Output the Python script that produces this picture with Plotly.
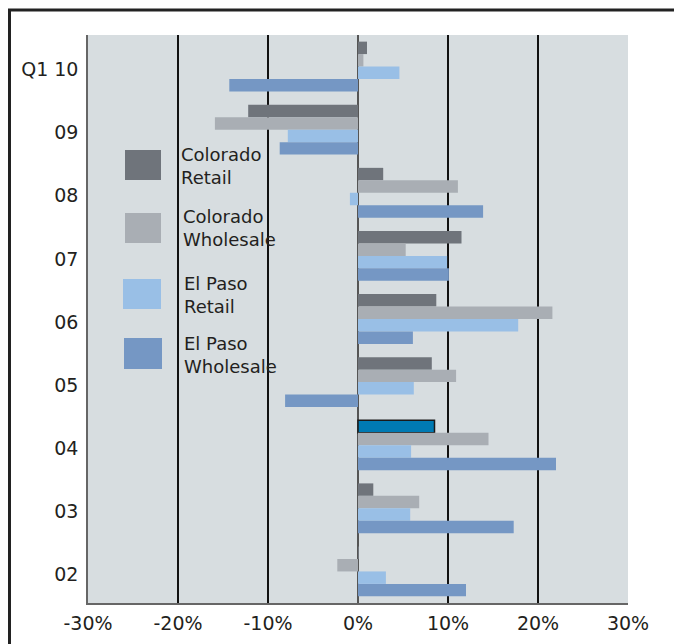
import plotly.graph_objects as go

categories = ["Q1 10", "09", "08", "07", "06", "05", "04", "03", "02"]
colorado_retail = [1.0, -12.2, 2.8, 11.5, 8.7, 8.2, 8.5, 1.7, 0.1]
colorado_wholesale = [0.6, -15.9, 11.1, 5.3, 21.6, 10.9, 14.5, 6.8, -2.3]
elpaso_retail = [4.6, -7.8, -0.9, 9.9, 17.8, 6.2, 5.9, 5.8, 3.1]
elpaso_wholesale = [-14.3, -8.7, 13.9, 10.1, 6.1, -8.1, 22.0, 17.3, 12.0]
x_ticks = [-30, -20, -10, 0, 10, 20, 30]
x_tick_labels = ["-30%", "-20%", "-10%", "0%", "10%", "20%", "30%"]

series_names = ["Colorado<br>Retail", "Colorado<br>Wholesale", "El Paso<br>Retail", "El Paso<br>Wholesale"]
series_values = [colorado_retail, colorado_wholesale, elpaso_retail, elpaso_wholesale]
colors = ["#6f747b", "#a9aeb4", "#99bfe6", "#7597c4"]
highlight_cat = "04"

FONT = "DejaVu Sans"
FS = 19
LFS = 18
TXT = "#231f20"

fig = go.Figure()
for i, (name, vals, col) in enumerate(zip(series_names, series_values, colors)):
    if i == 0:
        mcol = ["#007ab3" if c == highlight_cat else col for c in categories]
        lw = [1.5 if c == highlight_cat else 0 for c in categories]
        marker = dict(color=mcol, line=dict(color="#1a1a1a", width=lw))
    else:
        marker = dict(color=col, line=dict(width=0))
    fig.add_trace(go.Bar(y=categories, x=vals, orientation="h", name=name,
                         marker=marker, showlegend=False))

# page is rendered with an 8px body margin; design in page pixels and shift
OFF = 8
W, H = 682 - OFF, 644 - OFF
L, R, T, B = 88 - OFF, 628 - OFF, 35 - OFF, 603 - OFF

def px(x):
    return (x - OFF - L) / (R - L)

def py(y):
    return (B - (y - OFF)) / (B - T)

shapes = []
annotations = []
legend_boxes = [(125, 161, 150, 180), (125, 161, 213, 243), (123, 161, 279, 309), (124, 162, 338, 369)]
legend_text_pos = [(179, 166), (181, 228), (182, 295), (182, 355)]
for (x0, x1, y0, y1), col, name, (tx, ty) in zip(legend_boxes, colors, series_names, legend_text_pos):
    shapes.append(dict(type="rect", xref="paper", yref="paper", x0=px(x0), x1=px(x1),
                       y0=py(y1), y1=py(y0), fillcolor=col, line=dict(width=0), layer="above"))
    annotations.append(dict(xref="paper", yref="paper", x=px(tx), y=py(ty), text=name,
                            showarrow=False, xanchor="left", yanchor="middle", align="left",
                            font=dict(family=FONT, size=LFS, color=TXT)))

# outer frame (top and left)
shapes.append(dict(type="line", xref="paper", yref="paper", x0=px(7), x1=px(700), y0=py(10), y1=py(10),
                   line=dict(color="#222222", width=3)))
shapes.append(dict(type="line", xref="paper", yref="paper", x0=px(9.5), x1=px(9.5), y0=py(9), y1=py(660),
                   line=dict(color="#222222", width=3)))

fig.update_layout(
    width=W, height=H,
    margin=dict(l=L, r=W - R, t=T, b=H - B, autoexpand=False),
    paper_bgcolor="white", plot_bgcolor="#d7dde0",
    barmode="group", bargap=0.21, bargroupgap=0,
    font=dict(family=FONT, size=FS, color=TXT),
    shapes=shapes, annotations=annotations,
    xaxis=dict(range=[-30, 30], tickvals=x_ticks, ticktext=x_tick_labels,
               showgrid=True, gridcolor="#111111", gridwidth=1.5,
               zeroline=True, zerolinecolor="#555555", zerolinewidth=1.5,
               showline=True, linecolor="#666666", linewidth=1.5,
               ticks="outside", ticklen=2, tickcolor="rgba(0,0,0,0)",
               tickfont=dict(family=FONT, size=FS, color=TXT), fixedrange=True,
               automargin=False),
    yaxis=dict(categoryorder="array", categoryarray=categories, autorange="reversed",
               showgrid=False, showline=True, linecolor="#666666", linewidth=1.5,
               ticks="outside", ticklen=4, tickcolor="rgba(0,0,0,0)",
               ticklabelshift=-3,
               tickfont=dict(family=FONT, size=FS, color=TXT), fixedrange=True,
               automargin=False),
)

fig.write_html("out.html")
